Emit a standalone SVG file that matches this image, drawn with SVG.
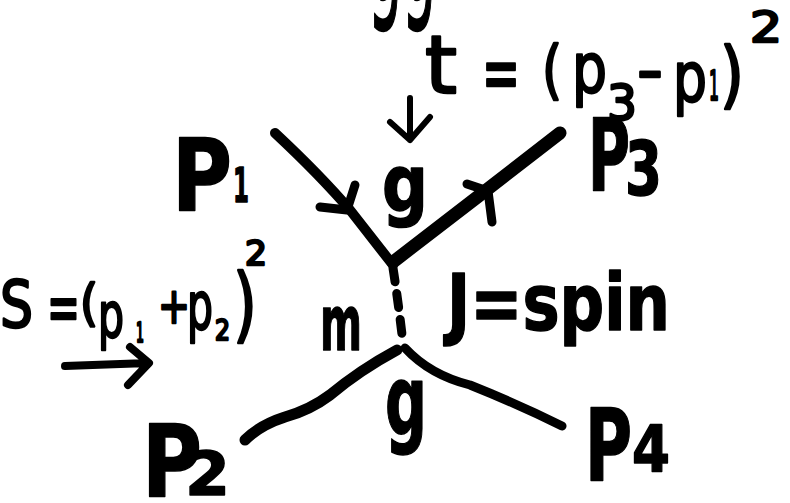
<svg xmlns="http://www.w3.org/2000/svg" width="790" height="503" viewBox="0 0 790 503">
  <style>
    .ln { fill: none; stroke: #000; stroke-linecap: round; stroke-linejoin: round; }
    .hw { font-family: "DejaVu Sans", "Liberation Sans", sans-serif; font-weight: normal; fill: #000; stroke: #000; stroke-width: 2.5; stroke-linejoin: round; }
    .hb { font-family: "DejaVu Sans", "Liberation Sans", sans-serif; font-weight: bold; fill: #000; stroke: #000; stroke-width: 1.5; stroke-linejoin: round; }
  </style>
  <rect width="790" height="503" fill="#fff"/>

  <g id="connectors">
    <path class="ln" stroke-width="10" d="M275,133 Q320,175 350,210 L393,265"/>
    <path class="ln" stroke-width="9" d="M320,207 L347,210 L355,185"/>
    <path class="ln" stroke-width="13" d="M393,262 L480,195 L560,133"/>
    <path class="ln" stroke-width="9" d="M467,184 L488,191 L492,222"/>
    <path class="ln" stroke-width="9" stroke-dasharray="14 12" d="M393,268 Q398,300 403,343"/>
    <path class="ln" stroke-width="11" d="M397,350 Q360,370 330,395 Q310,410 285,417 Q260,425 245,440"/>
    <path class="ln" stroke-width="9" d="M405,348 Q430,375 470,385 Q520,405 562,426"/>
    <path class="ln" stroke-width="6" d="M410,98 L410,140 M390,122 L410,140 L430,117"/>
    <path class="ln" stroke-width="8" d="M65,366 L148,363 M130,347 L149,363 L128,385"/>
  </g>

  <g id="top-text">
    <text class="hw" x="368" y="0" font-size="150" textLength="68" lengthAdjust="spacingAndGlyphs">gg</text>
  </g>

  <g id="t-label">
    <text class="hw"><tspan x="425" y="93" font-size="80" textLength="32" lengthAdjust="spacingAndGlyphs">t</tspan><tspan x="482" y="100" font-size="80" textLength="38" lengthAdjust="spacingAndGlyphs">=</tspan><tspan x="542" y="92" font-size="64" textLength="20" lengthAdjust="spacingAndGlyphs">(</tspan><tspan x="572" y="93" font-size="70" textLength="35" lengthAdjust="spacingAndGlyphs">p</tspan><tspan x="607" y="120" font-size="50" textLength="30" lengthAdjust="spacingAndGlyphs">3</tspan><tspan x="637" y="92" font-size="64" textLength="26" lengthAdjust="spacingAndGlyphs">-</tspan><tspan x="673" y="102" font-size="70" textLength="34" lengthAdjust="spacingAndGlyphs">p</tspan><tspan x="709" y="100" font-size="40" textLength="10" lengthAdjust="spacingAndGlyphs">1</tspan><tspan x="720" y="100" font-size="73" textLength="24" lengthAdjust="spacingAndGlyphs">)</tspan><tspan x="750" y="42" font-size="42" textLength="32" lengthAdjust="spacingAndGlyphs">2</tspan></text>
  </g>

  <g id="p1">
    <text class="hb"><tspan x="172" y="210" font-size="100" textLength="60" lengthAdjust="spacingAndGlyphs">P</tspan><tspan x="233" y="202" font-size="48" textLength="16" lengthAdjust="spacingAndGlyphs">1</tspan></text>
  </g>

  <g id="g-top">
    <text class="hb" x="382" y="211" font-size="78" textLength="46" lengthAdjust="spacingAndGlyphs">g</text>
  </g>

  <g id="p3">
    <text class="hb"><tspan x="588" y="190" font-size="100" textLength="42" lengthAdjust="spacingAndGlyphs">P</tspan><tspan x="625" y="195" font-size="75" textLength="37" lengthAdjust="spacingAndGlyphs">3</tspan></text>
  </g>

  <g id="s-label">
    <text class="hw"><tspan x="0" y="327" font-size="64" textLength="33" lengthAdjust="spacingAndGlyphs">S</tspan><tspan x="47" y="331" font-size="70" textLength="33" lengthAdjust="spacingAndGlyphs">=</tspan><tspan x="80" y="320" font-size="50" textLength="18" lengthAdjust="spacingAndGlyphs">(</tspan><tspan x="98" y="337" font-size="63" textLength="26" lengthAdjust="spacingAndGlyphs">p</tspan><tspan x="136" y="342" font-size="26" textLength="8" lengthAdjust="spacingAndGlyphs">1</tspan><tspan x="158" y="323" font-size="50" textLength="32" lengthAdjust="spacingAndGlyphs">+</tspan><tspan x="187" y="329" font-size="66" textLength="26" lengthAdjust="spacingAndGlyphs">p</tspan><tspan x="215" y="340" font-size="28" textLength="15" lengthAdjust="spacingAndGlyphs">2</tspan><tspan x="233" y="332" font-size="82" textLength="24" lengthAdjust="spacingAndGlyphs">)</tspan><tspan x="245" y="265" font-size="34" textLength="22" lengthAdjust="spacingAndGlyphs">2</tspan></text>
  </g>

  <g id="m-label">
    <text class="hb" x="320" y="350" font-size="76" textLength="42" lengthAdjust="spacingAndGlyphs">m</text>
  </g>

  <g id="j-label">
    <text class="hb" x="447" y="330" font-size="78" textLength="223" lengthAdjust="spacingAndGlyphs">J=spin</text>
  </g>

  <g id="g-bottom">
    <text class="hb" x="385" y="434" font-size="96" textLength="42" lengthAdjust="spacingAndGlyphs">g</text>
  </g>

  <g id="p2">
    <text class="hb"><tspan x="142" y="496" font-size="100" textLength="60" lengthAdjust="spacingAndGlyphs">P</tspan><tspan x="185" y="495" font-size="60" textLength="45" lengthAdjust="spacingAndGlyphs">2</tspan></text>
  </g>

  <g id="p4">
    <text class="hb"><tspan x="585" y="480" font-size="100" textLength="47" lengthAdjust="spacingAndGlyphs">P</tspan><tspan x="632" y="472" font-size="64" textLength="38" lengthAdjust="spacingAndGlyphs">4</tspan></text>
  </g>
</svg>
